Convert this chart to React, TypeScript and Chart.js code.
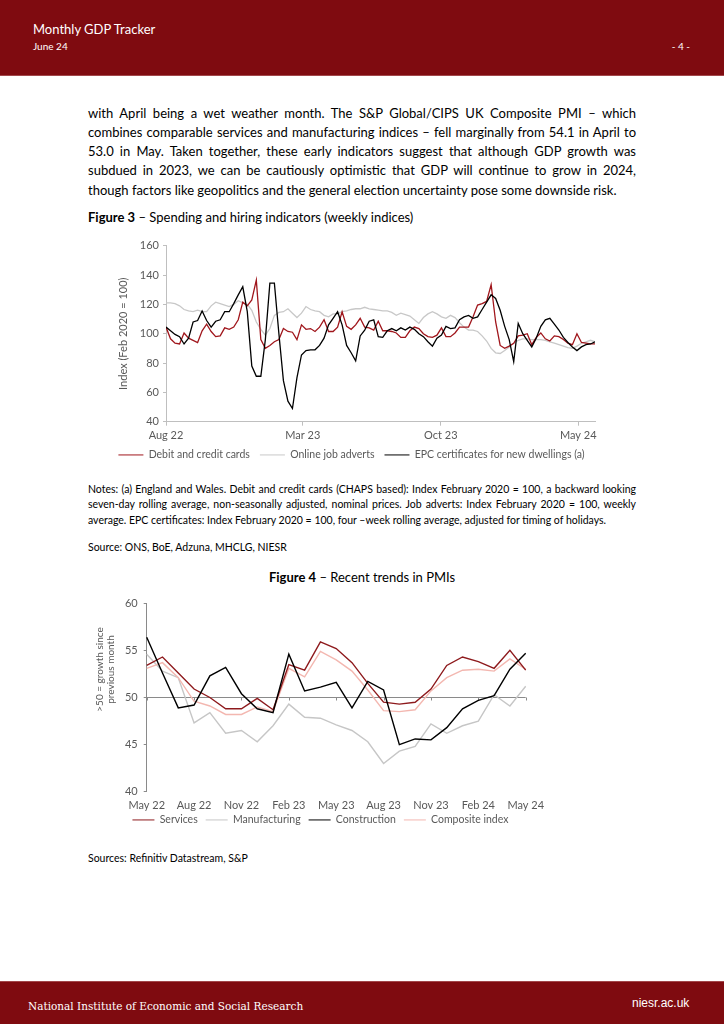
import React, { useEffect, useRef } from 'react';
import { Chart, registerables } from 'chart.js';

Chart.register(...registerables);

const FONT = 'Lato, "Open Sans", sans-serif';
const BRAND = '#7f0b10';
const AXIS_TEXT = '#595959';

// ---------------- Figure 3: weekly indices (first week = w/c 1 Aug 2022) ----------------
const fig3FirstWeek = '2022-08-01';
const fig3TickDates = ['2022-08-01', '2023-03-01', '2023-10-01', '2024-05-01'];
const fig3TickLabels = ['Aug 22', 'Mar 23', 'Oct 23', 'May 24'];
const fig3SeriesNames = ['Debit and credit cards', 'Online job adverts', 'EPC certificates for new dwellings (a)'];

const debitCredit = [
  104.5, 96.5, 93.5, 93, 100.5, 97, 95.5, 94, 102, 106.5,
  101.5, 98, 98.5, 104, 103, 104.5, 109.5, 121.5, 119, 123,
  136.5, 96, 90, 92, 94.5, 96, 103.5, 101.5, 101, 96,
  106, 103, 103.5, 101.5, 104.5, 109.5, 101.5, 101.5, 104.5, 115,
  105, 103, 106, 110.5, 104.5, 104, 102.5, 108.5, 102, 102,
  101.5, 100.5, 97.5, 97.5, 102, 104.5, 103.5, 100, 98, 97.5,
  99, 104, 98, 98, 100.5, 104.5, 104.5, 104.5, 111.5, 119.5,
  120.5, 122, 133.5, 108, 92, 90, 91.5, 93.5, 98.5, 99,
  100, 92.5, 97.5, 100.5, 96.5, 95, 98.5, 98, 96, 93.5,
  92.5, 100, 94, 93.5, 93, 93,
];

const onlineJobAdverts = [
  121, 121, 120.5, 119, 116.5, 115.5, 115, 116, 115, 115,
  119, 121.5, 120.5, 119.5, 118.5, 120, 122.5, 121, 120, 116,
  108, 103, 99, 103.5, 112.5, 114.5, 115, 117, 114, 111,
  114, 118.5, 116.5, 115.5, 115, 112.5, 111.5, 113.5, 113.5, 115,
  115.5, 116.5, 117, 117, 118, 117, 116.5, 116, 115.5, 115.5,
  114.5, 112.5, 114, 113, 112, 109.5, 107, 111, 113.5, 115,
  113.5, 111.5, 110.5, 112.5, 111, 107.5, 104.5, 102.5, 102.5, 101.5,
  98.5, 95, 90, 87, 86.5, 88.5, 91, 93.5, 95.5, 96.5,
  96.5, 96, 96, 96, 95.5, 94.5, 93.5, 92.5, 91.5, 90.5,
  90, 91.5, 93.5, 94.5, 95.5, 94.5,
];

const epcCertificates = [
  104.5, 102, 99.5, 98, 93, 97, 108, 109, 115.5, 109,
  104.5, 108.5, 109.5, 115, 115, 120.5, 126.5, 132, 115, 78,
  71, 71, 96, 134.5, 134.5, 100, 68, 54, 49, 70,
  85.5, 88.5, 89, 89, 92, 97, 106, 110.5, 115, 106,
  92, 87, 81.5, 98.5, 102.5, 108.5, 109.5, 98, 97.5, 102,
  103.5, 102, 104, 102.5, 104.5, 103, 100, 98, 94.5, 91.5,
  97, 99, 105, 103.5, 104, 109.5, 111.5, 112.5, 110.5, 111.5,
  116.5, 121.5, 126.5, 124, 116, 105, 96, 81, 107, 100,
  95.5, 91, 97, 105, 109.5, 110.5, 106.5, 102.5, 97.5, 94,
  91, 88.5, 91, 92.5, 93, 94.5,
];

// ---------------- Figure 4: monthly PMIs ----------------
const pmiMonths = [
  'May 22', 'Jun 22', 'Jul 22', 'Aug 22', 'Sep 22', 'Oct 22', 'Nov 22', 'Dec 22',
  'Jan 23', 'Feb 23', 'Mar 23', 'Apr 23', 'May 23', 'Jun 23', 'Jul 23', 'Aug 23',
  'Sep 23', 'Oct 23', 'Nov 23', 'Dec 23', 'Jan 24', 'Feb 24', 'Mar 24', 'Apr 24', 'May 24',
];
const servicesPmi = [53.4, 54.3, 52.6, 50.9, 50.0, 48.8, 48.8, 49.9, 48.7, 53.5, 52.9, 55.9, 55.2, 53.7, 51.5, 49.5, 49.3, 49.5, 50.9, 53.4, 54.3, 53.8, 53.1, 55.0, 52.9];
const manufacturingPmi = [54.6, 52.8, 52.1, 47.3, 48.4, 46.2, 46.5, 45.3, 47.0, 49.3, 47.9, 47.8, 47.1, 46.5, 45.3, 43.0, 44.3, 44.8, 47.2, 46.2, 47.0, 47.5, 50.3, 49.1, 51.2];
const constructionPmi = [56.4, 52.6, 48.9, 49.2, 52.3, 53.2, 50.4, 48.8, 48.4, 54.6, 50.7, 51.1, 51.6, 48.9, 51.7, 50.8, 45.0, 45.6, 45.5, 46.8, 48.8, 49.7, 50.2, 53.0, 54.7];
const compositePmi = [53.1, 53.7, 52.1, 49.6, 49.1, 48.2, 48.2, 49.0, 48.5, 53.1, 52.2, 54.9, 54.0, 52.8, 50.8, 48.6, 48.5, 48.7, 50.7, 52.1, 52.9, 53.0, 52.8, 54.1, 53.0];
const pmiSeriesNames = ['Services', 'Manufacturing', 'Construction', 'Composite index'];
const pmiAxisTitle = ['>50 = growth since', 'previous month'];

// ---------------- Page text ----------------
const paragraphLines = [
  'with April being a wet weather month. The S&P Global/CIPS UK Composite PMI \u2013 which',
  'combines comparable services and manufacturing indices \u2013 fell marginally from 54.1 in April to',
  '53.0 in May. Taken together, these early indicators suggest that although GDP growth was',
  'subdued in 2023, we can be cautiously optimistic that GDP will continue to grow in 2024,',
  'though factors like geopolitics and the general election uncertainty pose some downside risk.',
];
const notesLines = [
  'Notes: (a) England and Wales.  Debit and credit cards (CHAPS based): Index February 2020 = 100, a backward looking',
  'seven-day rolling average, non-seasonally adjusted, nominal prices. Job adverts: Index February 2020 = 100, weekly',
  'average. EPC certificates: Index February 2020 = 100, four \u2013week rolling average, adjusted for timing of holidays.',
];

Chart.defaults.font.family = FONT;

const dayOf = (iso: string) => Math.round((Date.parse(iso) - Date.parse(fig3FirstWeek)) / 86400000);
const weekly = (vals: number[]) => vals.map((v, k) => ({ x: k * 7, y: v }));

// nudges the legend box after layout
const legendShift = {
  id: 'legendShift',
  afterLayout(chart: any, _args: any, opts: any) {
    const lg = chart.legend;
    if (!lg) return;
    const dx = (opts && opts.dx) || 0;
    const dy = (opts && opts.dy) || 0;
    lg.left += dx;
    lg.right += dx;
    lg.top += dy;
    lg.bottom += dy;
  },
};

// small tick marks on the 50 crossing line
const midAxisTicks = {
  id: 'midAxisTicks',
  beforeDatasetsDraw(chart: any, _args: any, opts: any) {
    const { ctx } = chart;
    const xs = chart.scales.x;
    const ys = chart.scales.y;
    const yp = ys.getPixelForValue(opts.value);
    ctx.save();
    ctx.strokeStyle = opts.color;
    ctx.lineWidth = 1;
    const n = chart.data.labels.length;
    for (let i = 0; i < n; i += opts.every) {
      const xp = Math.round(xs.getPixelForValue(i)) + 0.5;
      ctx.beginPath();
      ctx.moveTo(xp, yp);
      ctx.lineTo(xp, yp + opts.length);
      ctx.stroke();
    }
    ctx.restore();
  },
};

// rotated y-axis title placed off-centre, as in the original
const sideTitle = {
  id: 'sideTitle',
  afterDraw(chart: any, _args: any, opts: any) {
    const { ctx, chartArea } = chart;
    const ys = chart.scales.y;
    ctx.save();
    ctx.font = `${opts.size}px ${FONT}`;
    ctx.fillStyle = opts.color;
    ctx.textAlign = 'center';
    ctx.textBaseline = 'middle';
    const cy = (chartArea.top + chartArea.bottom) / 2 + opts.dy;
    (opts.lines as string[]).forEach((t, i) => {
      ctx.save();
      ctx.translate(ys.left + opts.x + i * opts.lineHeight, cy);
      ctx.rotate(-Math.PI / 2);
      ctx.fillText(t, 0, 0);
      ctx.restore();
    });
    ctx.restore();
  },
};

function Figure3Chart() {
  const ref = useRef<HTMLCanvasElement>(null);
  useEffect(() => {
    const tickDays = fig3TickDates.map(dayOf);
    const chart = new Chart(ref.current as HTMLCanvasElement, {
      type: 'line',
      data: {
        datasets: [
          { label: fig3SeriesNames[0], data: weekly(debitCredit), borderColor: '#a0161c', backgroundColor: '#a0161c', order: 1 },
          { label: fig3SeriesNames[1], data: weekly(onlineJobAdverts), borderColor: '#c8c8c8', backgroundColor: '#c8c8c8', order: 2 },
          { label: fig3SeriesNames[2], data: weekly(epcCertificates), borderColor: '#000000', backgroundColor: '#000000', order: 0 },
        ],
      } as any,
      options: {
        responsive: false,
        animation: false,
        elements: { point: { radius: 0 }, line: { borderWidth: 1.3, tension: 0 } },
        layout: { padding: { left: 0, right: 33, top: 10.7, bottom: 0.8 } },
        scales: {
          x: {
            type: 'linear',
            min: 0,
            max: (debitCredit.length - 1) * 7,
            afterBuildTicks: (s: any) => {
              s.ticks = tickDays.map((v) => ({ value: v }));
            },
            afterFit: (s: any) => {
              s.height = 22;
            },
            ticks: {
              autoSkip: false,
              maxRotation: 0,
              padding: 3,
              color: AXIS_TEXT,
              font: { size: 11 },
              callback: (_v: any, i: number) => fig3TickLabels[i],
            },
            grid: { drawOnChartArea: false, tickLength: 4, color: '#bfbfbf' },
            border: { color: '#bfbfbf' },
          },
          y: {
            min: 40,
            max: 160,
            afterFit: (s: any) => {
              s.width = 78;
            },
            ticks: { stepSize: 20, padding: 4, color: AXIS_TEXT, font: { size: 11 } },
            grid: { drawOnChartArea: false, tickLength: 3, color: '#bfbfbf' },
            border: { color: '#bfbfbf' },
            title: {
              display: true,
              text: 'Index (Feb 2020 = 100)',
              color: AXIS_TEXT,
              font: { size: 11 },
              padding: { top: 29, bottom: 0 },
            },
          },
        } as any,
        plugins: {
          legend: {
            position: 'bottom',
            labels: {
              usePointStyle: true,
              pointStyle: 'line',
              pointStyleWidth: 25,
              boxHeight: 10.5,
              color: AXIS_TEXT,
              font: { size: 10.5 },
              padding: 10,
              sort: (a: any, b: any) => a.datasetIndex - b.datasetIndex,
            },
          },
          tooltip: { enabled: false },
          legendShift: { dx: 10, dy: -4 },
        } as any,
      },
      plugins: [legendShift],
    });
    return () => chart.destroy();
  }, []);
  return (
    <canvas
      ref={ref}
      width={540}
      height={240}
      style={{ position: 'absolute', left: 88, top: 235, width: 540, height: 240 }}
    />
  );
}

function Figure4Chart() {
  const ref = useRef<HTMLCanvasElement>(null);
  useEffect(() => {
    const chart = new Chart(ref.current as HTMLCanvasElement, {
      type: 'line',
      data: {
        labels: pmiMonths,
        datasets: [
          { label: pmiSeriesNames[0], data: servicesPmi, borderColor: '#8e1a1d', backgroundColor: '#8e1a1d', order: 1 },
          { label: pmiSeriesNames[1], data: manufacturingPmi, borderColor: '#c6c6c6', backgroundColor: '#c6c6c6', order: 3 },
          { label: pmiSeriesNames[2], data: constructionPmi, borderColor: '#000000', backgroundColor: '#000000', order: 0 },
          { label: pmiSeriesNames[3], data: compositePmi, borderColor: '#f3b7b0', backgroundColor: '#f3b7b0', order: 2 },
        ],
      },
      options: {
        responsive: false,
        animation: false,
        elements: { point: { radius: 0 }, line: { borderWidth: 1.4, tension: 0 } },
        layout: { padding: { left: 0, right: 102.3, top: 13.3, bottom: 0.8 } },
        scales: {
          x: {
            offset: false,
            afterFit: (s: any) => {
              s.height = 22;
            },
            ticks: {
              autoSkip: false,
              maxRotation: 0,
              padding: 7,
              color: AXIS_TEXT,
              font: { size: 11 },
              callback: (_v: any, i: number) => (i % 3 === 0 ? pmiMonths[i] : ''),
            },
            grid: { display: false, drawTicks: false, tickLength: 0 },
            border: { display: false },
          },
          y: {
            min: 40,
            max: 60,
            afterFit: (s: any) => {
              s.width = 58.7;
            },
            ticks: { stepSize: 5, padding: 6, color: AXIS_TEXT, font: { size: 11 } },
            grid: {
              color: (c: any) => (c.tick && c.tick.value === 50 ? '#8a8a8a' : 'rgba(0,0,0,0)'),
              tickColor: '#8a8a8a',
              tickLength: 3,
            },
            border: { color: '#8a8a8a' },
          },
        } as any,
        plugins: {
          legend: {
            position: 'bottom',
            labels: {
              usePointStyle: true,
              pointStyle: 'line',
              pointStyleWidth: 22,
              boxHeight: 10.5,
              color: AXIS_TEXT,
              font: { size: 10.5 },
              padding: 8,
              sort: (a: any, b: any) => a.datasetIndex - b.datasetIndex,
            },
          },
          tooltip: { enabled: false },
          legendShift: { dx: 13.6, dy: -7 },
          midAxisTicks: { value: 50, every: 3, length: 3, color: '#8a8a8a' },
          sideTitle: { lines: pmiAxisTitle, x: 12, lineHeight: 11, dy: -28, size: 10, color: AXIS_TEXT },
        } as any,
      },
      plugins: [legendShift, midAxisTicks, sideTitle],
    });
    return () => chart.destroy();
  }, []);
  return (
    <canvas
      ref={ref}
      width={540}
      height={253}
      style={{ position: 'absolute', left: 88, top: 590, width: 540, height: 253 }}
    />
  );
}

type TextProps = {
  x: number;
  cy: number;
  size: number;
  lh: number;
  children: React.ReactNode;
  color?: string;
  width?: number;
  justify?: boolean;
  align?: 'left' | 'right' | 'center';
  family?: string;
  weight?: number;
};

function T({ x, cy, size, lh, children, color = '#000', width, justify, align = 'left', family = FONT, weight = 400 }: TextProps) {
  return (
    <div
      style={{
        position: 'absolute',
        left: x,
        top: cy - lh / 2,
        width,
        height: lh,
        lineHeight: `${lh}px`,
        fontSize: size,
        fontFamily: family,
        fontWeight: weight,
        color,
        whiteSpace: 'nowrap',
        textAlign: justify ? 'justify' : align,
        textAlignLast: justify ? 'justify' : align,
      } as React.CSSProperties}
    >
      {children}
    </div>
  );
}

export default function App() {
  const paraTop = 113;
  const paraStep = 19.3;
  const notesTop = 489;
  const notesStep = 15.5;
  return (
    <div
      style={{
        position: 'absolute',
        left: 0,
        top: 0,
        width: 724,
        height: 1024,
        background: '#ffffff',
        overflow: 'hidden',
        fontFamily: FONT,
      }}
    >
      {/* header */}
      <div style={{ position: 'absolute', left: 0, top: 0, width: 724, height: 75, background: BRAND }} />
      <div style={{ position: 'absolute', left: 0, top: 75, width: 724, height: 1, background: '#a2474a' }} />
      <T x={33} cy={29} size={13} lh={16} color="#ffffff">Monthly GDP Tracker</T>
      <T x={33} cy={46.5} size={10} lh={13} color="#ffffff">June 24</T>
      <T x={600} cy={46.5} size={10} lh={13} color="#ffffff" width={90} align="right">- 4 -</T>

      {/* paragraph */}
      {paragraphLines.map((line, i) => (
        <T key={i} x={88} cy={paraTop + i * paraStep} size={13} lh={19} width={548} justify={i < paragraphLines.length - 1}>
          {line}
        </T>
      ))}

      {/* figure 3 caption */}
      <T x={88} cy={217} size={13} lh={18}>
        <b>Figure 3</b> {'\u2013'} Spending and hiring indicators (weekly indices)
      </T>
      <Figure3Chart />

      {/* notes */}
      {notesLines.map((line, i) => (
        <T key={i} x={88} cy={notesTop + i * notesStep} size={10.5} lh={15} width={548} justify={i < notesLines.length - 1}>
          {line}
        </T>
      ))}
      <T x={88} cy={547} size={10.5} lh={15}>Source: ONS, BoE, Adzuna, MHCLG, NIESR</T>

      {/* figure 4 caption */}
      <T x={162} cy={577} size={13} lh={18} width={400} align="center">
        <b>Figure 4</b> {'\u2013'} Recent trends in PMIs
      </T>
      <Figure4Chart />
      <T x={88} cy={858} size={10.5} lh={15}>Sources: Refinitiv Datastream, S&amp;P</T>

      {/* footer */}
      <div style={{ position: 'absolute', left: 0, top: 981, width: 724, height: 1, background: '#a2474a' }} />
      <div style={{ position: 'absolute', left: 0, top: 982, width: 724, height: 42, background: BRAND }} />
      <T x={28} cy={1006} size={10.5} lh={15} color="#ffffff" family={'"DejaVu Serif", serif'}>
        National Institute of Economic and Social Research
      </T>
      <T x={632} cy={1003} size={12} lh={15} color="#ffffff" family={'"Liberation Sans", Arial, sans-serif'}>
        niesr.ac.uk
      </T>
    </div>
  );
}
